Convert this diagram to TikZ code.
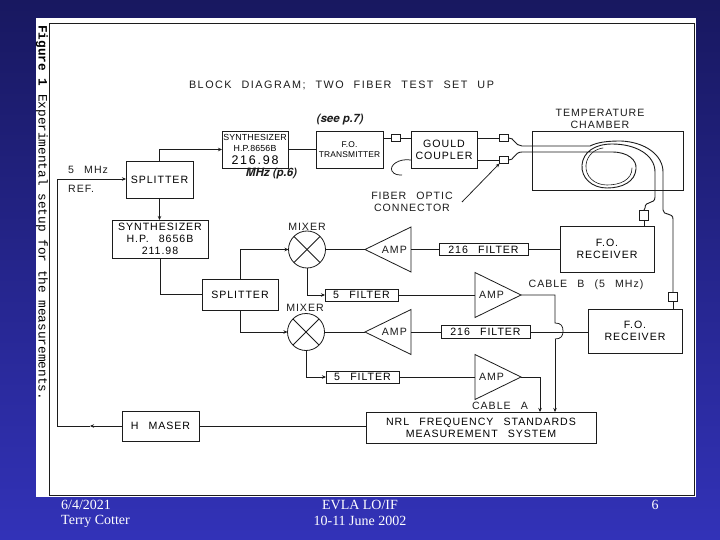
\documentclass[tikz,border=0pt]{standalone}
\usepackage{fontspec}
\usetikzlibrary{arrows.meta,shapes.geometric}
\newfontfamily\lab[LetterSpace=9,WordSpace=2.6]{Liberation Sans}
\newfontfamily\labw[LetterSpace=14,WordSpace=2.2]{Liberation Sans}
\newfontfamily\labn[LetterSpace=2]{Liberation Sans}
\newfontfamily\capmono{Liberation Mono}
\newfontfamily\foot{Liberation Serif}
\newfontfamily\hand{TeX Gyre Heros}
\definecolor{ink}{HTML}{1C1C1C}
\tikzset{
  ln/.style={draw=ink,line width=0.75pt},
  fiber/.style={draw=ink,line width=0.9pt,line cap=round},
  arr/.style={ln,-{Stealth[length=4pt,width=3.5pt]}},
  bx/.style={draw=ink,line width=0.8pt,inner sep=0pt,outer sep=0pt,align=center,font=\lab\fontsize{10.6}{12.2}\selectfont},
  txt/.style={inner sep=0pt,align=center,text=ink,font=\lab\fontsize{10.6}{11.8}\selectfont},
  conn/.style={draw=ink,line width=0.7pt,inner sep=0pt,outer sep=0pt},
  amp/.style={draw=ink,line width=0.8pt,isosceles triangle,isosceles triangle stretches,inner sep=0pt,outer sep=0pt,minimum width=45pt,minimum height=46pt,font=\lab\fontsize{10.6}{10}\selectfont,text=ink},
  mix/.style={draw=ink,line width=0.8pt,circle,inner sep=0pt,outer sep=0pt,minimum size=37pt},
  foottxt/.style={inner sep=0pt,text=white,font=\foot\fontsize{14}{16}\selectfont},
  handtxt/.style={inner sep=0pt,text=ink,font=\hand\bfseries\itshape\fontsize{11.5}{12}\selectfont}
}
\begin{document}
\begin{tikzpicture}[x=1pt,y=-1pt]
\useasboundingbox (0,0) rectangle (720,540);
\shade[top color={rgb,255:red,24;green,24;blue,96},bottom color={rgb,255:red,50;green,50;blue,184}] (0,0) rectangle (720,540);
\fill[white] (36,18) rectangle (696,497);
\draw[ink,line width=1pt] (49,24) rectangle (694,495);
\node[rotate=-90,inner sep=0pt,text=black,anchor=west,font=\capmono\fontsize{12.75}{14}\selectfont] (caption) at (42,25) {\textbf{Figure 1} Experimental setup for the measurements.};

\node[txt,font=\labw\fontsize{10.8}{12}\selectfont] (title) at (341.5,85) {BLOCK DIAGRAM; TWO FIBER TEST SET UP};

% boxes
\node[bx,minimum width=66pt,minimum height=37pt,font=\labn\fontsize{8.8}{11.2}\selectfont] (syn1) at (255,149.5) {SYNTHESIZER\\H.P.8656B\\[1.5pt]{\labw\fontsize{12.5}{12}\selectfont 216.98}};
\node[bx,minimum width=67pt,minimum height=37pt,font=\labn\fontsize{8.4}{10.5}\selectfont] (tx) at (349.5,149.5) {F.O.\\TRANSMITTER};
\node[bx,minimum width=66pt,minimum height=37pt] (gould) at (444,149.5) {GOULD\\COUPLER};
\node[bx,minimum width=151pt,minimum height=59pt] (chamber) at (607.5,160.5) {};
\node[txt] (chamberlab) at (600,119) {TEMPERATURE\\CHAMBER};
\node[bx,minimum width=94pt,minimum height=46pt] (rx1) at (607,249) {F.O.\\RECEIVER};
\node[bx,minimum width=94pt,minimum height=44pt] (rx2) at (635,331) {F.O.\\RECEIVER};
\node[bx,minimum width=89pt,minimum height=12pt] (fa) at (483.5,249.5) {216 FILTER};
\node[bx,minimum width=89pt,minimum height=13pt] (fb) at (485.5,332) {216 FILTER};
\node[bx,minimum width=73pt,minimum height=12pt] (fc) at (361.5,295) {5 FILTER};
\node[bx,minimum width=73pt,minimum height=12pt] (fd) at (362.5,377) {5 FILTER};
\node[bx,minimum width=230pt,minimum height=31pt] (nrl) at (481,427.5) {NRL FREQUENCY STANDARDS\\MEASUREMENT SYSTEM};
\node[bx,minimum width=67pt,minimum height=37pt] (sp1) at (159.5,179.5) {SPLITTER};
\node[bx,minimum width=76pt,minimum height=31pt] (sp2) at (240,294.5) {SPLITTER};
\node[bx,minimum width=96pt,minimum height=38pt] (syn2) at (160,239) {SYNTHESIZER\\H.P. 8656B\\211.98};
\node[bx,minimum width=77pt,minimum height=30pt] (maser) at (160.5,426) {H MASER};

% mixers
\node[mix] (m1) at (307,249.5) {};
\node[mix] (m2) at (306,332) {};
\foreach \m in {m1,m2}{
  \draw[ln] (\m.45) -- (\m.225);
  \draw[ln] (\m.135) -- (\m.315);
}
\node[txt] (m1lab) at (307,227) {MIXER};
\node[txt] (m2lab) at (305,308) {MIXER};

% amplifiers
\node[amp,shape border rotate=180,anchor=apex] (a1) at (365,249.5) {AMP};
\node[amp,anchor=apex] (a2) at (521,295) {AMP};
\node[amp,shape border rotate=180,anchor=apex] (a3) at (365,332) {AMP};
\node[amp,anchor=apex] (a4) at (521,377) {AMP};

% fibre connectors
\node[conn,minimum width=9pt,minimum height=7pt] (c1) at (396,138) {};
\node[conn,minimum width=9pt,minimum height=7pt] (c2) at (504,138) {};
\node[conn,minimum width=9pt,minimum height=7pt] (c3) at (504,160) {};
\node[conn,minimum width=9pt,minimum height=10pt] (cv1) at (644,215) {};
\node[conn,minimum width=9pt,minimum height=9pt] (cv2) at (673,297) {};

% labels
\node[txt] (fol) at (412,202) {FIBER OPTIC\\CONNECTOR};
\node[txt] (cb) at (586,285) {CABLE B (5 MHz)};
\node[txt] (ca) at (500,406) {CABLE A};
\node[txt,anchor=west] (mhz) at (68,170) {5 MHz};
\node[txt,anchor=west] (ref) at (68,189) {REF.};
\node[handtxt] (see) at (340,120) {(see p.7)};
\node[handtxt] (pg) at (271.5,173.5) {MHz (p.6)};

% footer
\node[foottxt,anchor=west] (f1) at (61,505) {6/4/2021};
\node[foottxt,anchor=west] (f2) at (61,521) {Terry Cotter};
\node[foottxt] (f3) at (360,505) {EVLA LO/IF};
\node[foottxt] (f4) at (360,521) {10-11 June 2002};
\node[foottxt] (f5) at (655,505) {6};

% helper points
\coordinate (refcorner) at (57,179);
\coordinate (refmid) at (90,426);
\coordinate (refbot) at (57,426);
\coordinate (bumpa) at (555,323);
\coordinate (bumpb) at (555,339);
\coordinate (cblb) at (555,295);
\coordinate (cbla) at (540,377);
\coordinate (folstart) at (462,202);

% connectors
\draw[arr] (maser.west) -- (refmid);
\draw[ln] (refmid) -- (refbot) -- (refcorner);
\draw[arr] (refcorner) -- (sp1.west |- refcorner);
\draw[arr] (sp1.north) |- (syn1.west);
\draw[ln] (syn1.east) -- (tx.west);
\draw[ln] (tx.east |- c1) -- (c1.west);
\draw[ln] (c1.east) -- (gould.west |- c1);
\draw[ln] (gould.east |- c2) -- (c2.west);
\draw[ln] (gould.east |- c3) -- (c3.west);
\draw[ln] (gould.west |- c3) .. controls (398,158) and (389,166) .. (392,171) .. controls (394,175) and (399,175) .. (402,175);
\draw[arr] (sp1.south) -- (syn2.north -| sp1.south);
\draw[ln] (syn2.south) |- (sp2.west);
\draw[arr] (sp2.north) |- (m1.west);
\draw[arr] (sp2.south) |- (m2.west);
\draw[arr] (m1.south) |- (fc.west);
\draw[arr] (m2.south) |- (fd.west);
\draw[ln] (m1.east) -- (a1.apex);
\draw[ln] (m2.east) -- (a3.apex);
\draw[ln] (fa.west) -- (a1.lower side);
\draw[ln] (fa.east) -- (rx1.west |- fa.east);
\draw[ln] (fb.west) -- (a3.lower side);
\draw[ln] (fb.east) -- (rx2.west |- fb.east);
\draw[ln] (fc.east) -- (a2.lower side);
\draw[ln] (fd.east) -- (a4.lower side);
\draw[ln] (a2.apex) -- (cblb) -- (bumpa) .. controls (561,323) and (563,326) .. (563,331) .. controls (563,336) and (561,339) .. (bumpb);
\draw[arr] (bumpb) -- (nrl.north -| bumpb);
\draw[ln] (a4.apex) -- (cbla);
\draw[arr] (cbla) -- (nrl.north -| cbla);
\draw[ln] (maser.east) -- (maser.east -| nrl.west);
\draw[arr] (folstart) -- (c3.south west);

% fibres
\draw[fiber] (c2.east) .. controls (514,137) and (515,146) .. (522,146) -- (590,146) .. controls (598,142) and (608,141) .. (621,141) .. controls (645,142) and (663,155) .. (663,172) -- (663,210) .. controls (663,216) and (673,212) .. (673,219) -- (cv2.north);
\draw[fiber] (c3.east) .. controls (514,161) and (514,152) .. (522,152) -- (612,152) .. controls (628,152) and (637,160) .. (636,169) .. controls (635,182) and (622,188) .. (607,188) .. controls (592,188) and (581,178) .. (582,165) .. controls (583,152) and (595,144) .. (612,144) .. controls (636,144) and (655,155) .. (655,172) -- (655,197) .. controls (655,205) and (645,200) .. (645,208) -- (cv1.north);
\draw[fiber,line width=0.6pt] (632,168) .. controls (632,180) and (620,185) .. (607,185) .. controls (594,185) and (585,176) .. (586,165) .. controls (587,155) and (595,149) .. (603,148);
\draw[ln] (cv1.south) -- (rx1.north -| cv1.south);
\draw[ln] (cv2.south) -- (rx2.north -| cv2.south);
\end{tikzpicture}
\end{document}
